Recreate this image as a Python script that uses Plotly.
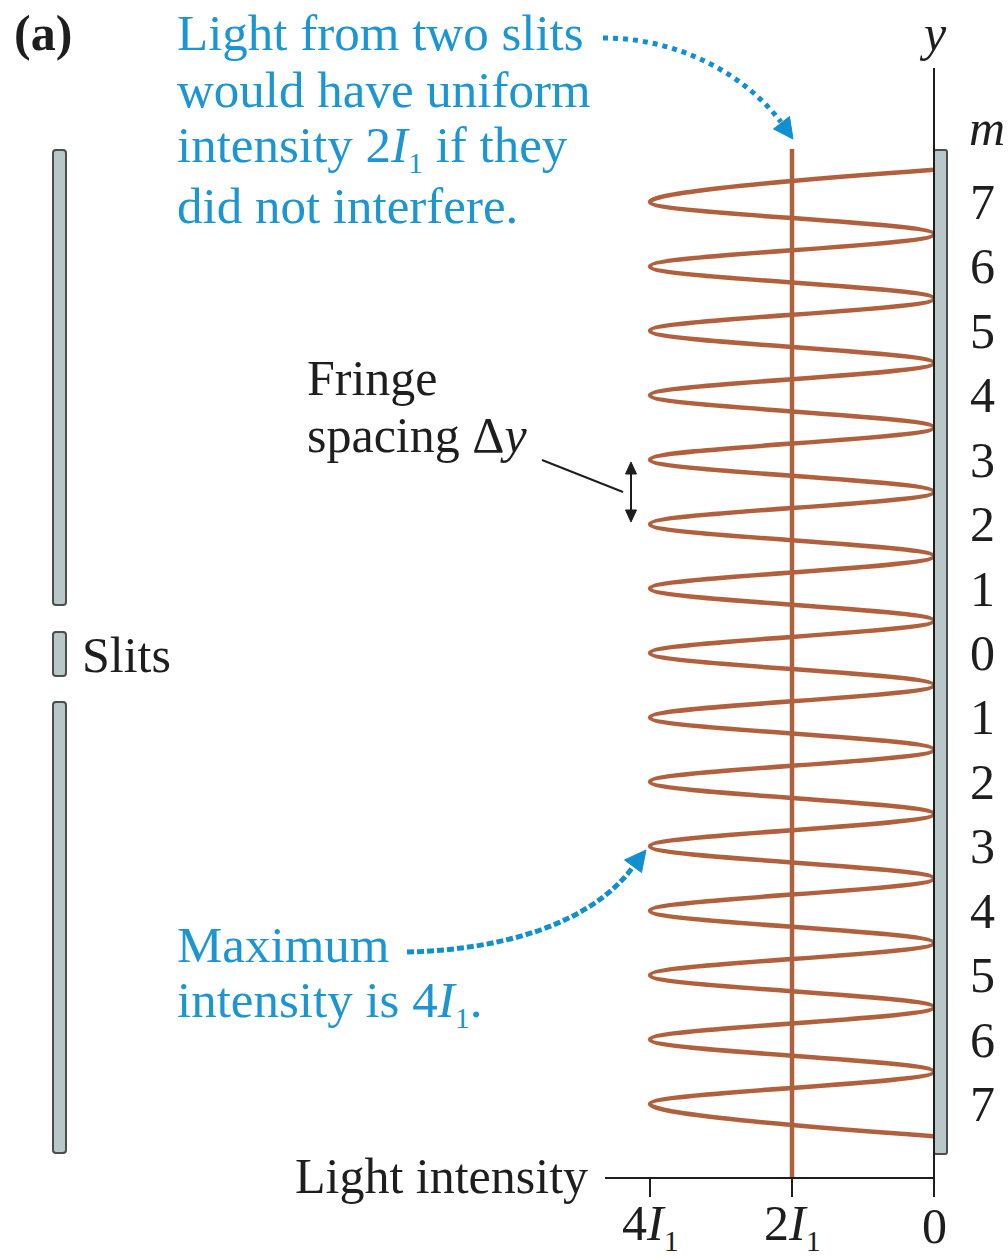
import plotly.graph_objects as go

# ---- data -------------------------------------------------------------
# Fringe positions in units of the fringe spacing (0 = central maximum)
fringe_pos = [7, 6, 5, 4, 3, 2, 1, 0, -1, -2, -3, -4, -5, -6, -7]
fringe_order = ["7", "6", "5", "4", "3", "2", "1", "0", "1", "2", "3", "4", "5", "6", "7"]

# Intensity extremes (intensity in units of I1): bright fringes and dark fringes
maxima_y = [7, 6, 5, 4, 3, 2, 1, 0, -1, -2, -3, -4, -5, -6, -7]
maxima_I = 4.0
minima_y = [7.5, 6.5, 5.5, 4.5, 3.5, 2.5, 1.5, 0.5,
            -0.5, -1.5, -2.5, -3.5, -4.5, -5.5, -6.5, -7.5]
minima_I = 0.0

intensity_ticks = [4, 2, 0]
intensity_labels = ["4<i>I</i><sub>1</sub>", "2<i>I</i><sub>1</sub>", "0"]
uniform_level = 2.0

# ---- geometry helpers ----------------------------------------------------
W, H = 1008, 1259
X0_PX, PX_PER_I = 934.0, 71.0
Y0_PX, PX_PER_DY = 653.0, 64.43

def px_to_x(px):
    return (X0_PX - px) / PX_PER_I

def py_to_y(py):
    return (Y0_PX - py) / PX_PER_DY

def P(px, py):
    return f"{px / W:.5f},{1 - py / H:.5f}"

def rounded_bar(x0, y0, x1, y1, r=3):
    return (f"M {P(x0 + r, y0)} L {P(x1 - r, y0)} Q {P(x1, y0)} {P(x1, y0 + r)} "
            f"L {P(x1, y1 - r)} Q {P(x1, y1)} {P(x1 - r, y1)} L {P(x0 + r, y1)} "
            f"Q {P(x0, y1)} {P(x0, y1 - r)} L {P(x0, y0 + r)} Q {P(x0, y0)} {P(x0 + r, y0)} Z")

BLUE = "#1c96d3"
ARROW_BLUE = "#128fd0"
BROWN = "#b1603d"
INK = "#1e1e1e"
BAR_FILL = "#b8c8c8"
BAR_LINE = "#4d4d4d"
FONT = "Liberation Serif"
SUB = "<sub><span style='font-size:30px'>1</span></sub>"

# ---- intensity curve ---------------------------------------------------
pts = [(y, maxima_I) for y in maxima_y] + [(y, minima_I) for y in minima_y]
pts.sort(key=lambda p: -p[0])
curve_y = [p[0] for p in pts]
curve_I = [p[1] for p in pts]

fig = go.Figure()

fig.add_trace(go.Scatter(
    x=[uniform_level, uniform_level], y=[py_to_y(149), py_to_y(1178)],
    mode="lines", line=dict(color=BROWN, width=4.5), hoverinfo="skip"))

fig.add_trace(go.Scatter(
    x=curve_I, y=curve_y, mode="lines",
    line=dict(color=BROWN, width=4.5, shape="spline", smoothing=1.1),
    hoverinfo="skip"))

shapes = []

# slit screen on the left
for y0, y1 in [(150, 605), (632, 676), (702, 1153)]:
    shapes.append(dict(type="path", xref="paper", yref="paper",
                       path=rounded_bar(53, y0, 66, y1),
                       fillcolor=BAR_FILL, line=dict(color=BAR_LINE, width=2),
                       layer="below"))

# viewing screen on the right
shapes.append(dict(type="path", xref="paper", yref="paper",
                   path=rounded_bar(934, 150, 947, 1154, r=2),
                   fillcolor=BAR_FILL, line=dict(color=BAR_LINE, width=2),
                   layer="above"))

# y axis and intensity axis
shapes.append(dict(type="line", xref="x", yref="y",
                   x0=0, x1=0, y0=py_to_y(68), y1=py_to_y(1197),
                   line=dict(color=INK, width=2)))
shapes.append(dict(type="line", xref="x", yref="y",
                   x0=px_to_x(605), x1=0, y0=py_to_y(1178), y1=py_to_y(1178),
                   line=dict(color=INK, width=2)))
for t in intensity_ticks:
    shapes.append(dict(type="line", xref="x", yref="y",
                       x0=t, x1=t, y0=py_to_y(1178), y1=py_to_y(1197),
                       line=dict(color=INK, width=2)))

# fringe spacing marker
shapes.append(dict(type="line", xref="paper", yref="paper",
                   x0=542 / W, y0=1 - 460 / H, x1=623 / W, y1=1 - 492 / H,
                   line=dict(color=INK, width=2)))
shapes.append(dict(type="line", xref="paper", yref="paper",
                   x0=631 / W, y0=1 - 470 / H, x1=631 / W, y1=1 - 514 / H,
                   line=dict(color=INK, width=2)))
shapes.append(dict(type="path", xref="paper", yref="paper",
                   path=f"M {P(631, 462)} L {P(625.5, 474)} L {P(636.5, 474)} Z",
                   fillcolor=INK, line=dict(color=INK, width=1)))
shapes.append(dict(type="path", xref="paper", yref="paper",
                   path=f"M {P(631, 522)} L {P(625.5, 510)} L {P(636.5, 510)} Z",
                   fillcolor=INK, line=dict(color=INK, width=1)))

# dotted arrow to the 2I1 line
shapes.append(dict(type="path", xref="paper", yref="paper",
                   path=f"M {P(603, 38)} C {P(680, 38)} {P(745, 75)} {P(781, 122)}",
                   line=dict(color=ARROW_BLUE, width=5, dash="dot")))
shapes.append(dict(type="path", xref="paper", yref="paper",
                   path=f"M {P(793, 139)} L {P(773.5, 129)} L {P(789.5, 116.5)} Z",
                   fillcolor=ARROW_BLUE, line=dict(color=ARROW_BLUE, width=1)))

# dashed arrow to a maximum
shapes.append(dict(type="path", xref="paper", yref="paper",
                   path=f"M {P(407, 952)} C {P(500, 950)} {P(590, 925)} {P(633, 867)}",
                   line=dict(color=ARROW_BLUE, width=5, dash="7px,3px")))
shapes.append(dict(type="path", xref="paper", yref="paper",
                   path=f"M {P(646, 850)} L {P(641.5, 872.5)} L {P(624.5, 860)} Z",
                   fillcolor=ARROW_BLUE, line=dict(color=ARROW_BLUE, width=1)))

annotations = []

def text(s, px, py, color=INK, size=50, xanchor="left"):
    annotations.append(dict(text=s, xref="paper", yref="paper",
                            x=px / W, y=1 - py / H, xanchor=xanchor, yanchor="middle",
                            showarrow=False,
                            font=dict(family=FONT, size=size, color=color)))

text("<b>(a)</b>", 12, 33)

for i, line in enumerate(["Light from two slits", "would have uniform",
                          f"intensity 2<i>I</i>{SUB} if they",
                          "did not interfere."]):
    text(line, 175, 33 + i * 57.5, color=BLUE, size=51)

text("Fringe", 305, 378)
text("spacing Δ<i>y</i>", 305, 435)
text("Slits", 80, 655)
text("Maximum", 175, 945, color=BLUE, size=51)
text(f"intensity is 4<i>I</i>{SUB}.", 175, 1002.5, color=BLUE, size=51)
text("Light intensity", 590, 1176, xanchor="right")

text("<i>y</i>", 933, 33, xanchor="center")
text("<i>m</i>", 987, 128, xanchor="center")

for pos, lab in zip(fringe_pos, fringe_order):
    annotations.append(dict(text=lab, xref="paper", yref="y",
                            x=982 / W, y=pos, xanchor="center", yanchor="middle",
                            showarrow=False,
                            font=dict(family=FONT, size=50, color=INK)))

for t, lab in zip(intensity_ticks, intensity_labels):
    annotations.append(dict(text=lab.replace("<sub>1</sub>", SUB), xref="x", yref="paper",
                            x=t, y=1 - 1226 / H, xanchor="center", yanchor="middle",
                            showarrow=False,
                            font=dict(family=FONT, size=50, color=INK)))

fig.update_layout(
    width=W, height=H, autosize=False,
    margin=dict(l=0, r=0, t=0, b=0),
    paper_bgcolor="white", plot_bgcolor="white",
    showlegend=False,
    xaxis=dict(range=[px_to_x(0), px_to_x(W)], visible=False, fixedrange=True),
    yaxis=dict(range=[py_to_y(H), py_to_y(0)], visible=False, fixedrange=True),
    shapes=shapes, annotations=annotations,
)

fig.write_html("out.html")
